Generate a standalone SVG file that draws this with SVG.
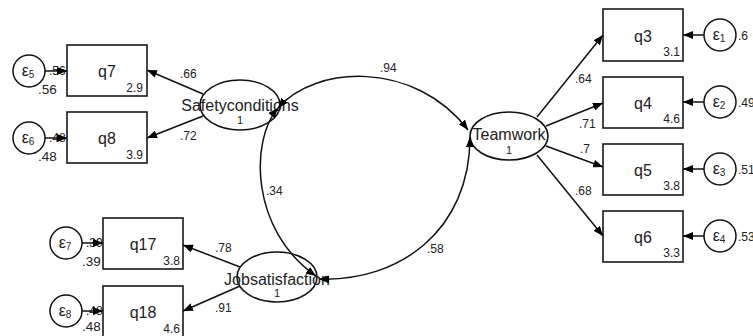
<svg xmlns="http://www.w3.org/2000/svg" width="753" height="336" viewBox="0 0 753 336">
  <style>
    text { font-family: "Liberation Sans", Arial, sans-serif; fill: #222; }
    .box { fill: #fff; stroke: #1a1a1a; stroke-width: 1.6; }
    .lat { fill: #fff; stroke: #111; stroke-width: 1.6; }
    .err { fill: #fff; stroke: #111; stroke-width: 1.5; }
    .name { font-size: 16px; text-anchor: middle; }
    .item { font-size: 16px; text-anchor: middle; }
    .mean { font-size: 12px; text-anchor: end; }
    .one { font-size: 11px; text-anchor: middle; }
    .coef { font-size: 12px; }
    .var { font-size: 13.5px; fill: #000; }
    .eps { font-size: 16px; text-anchor: middle; }
    .sub { font-size: 10px; }
    .edge { fill: none; stroke: #111; stroke-width: 1.5; marker-end: url(#head); }
    .cov { fill: none; stroke: #111; stroke-width: 1.5; marker-start: url(#head); marker-end: url(#head); }
  </style>
  <defs>
    <marker id="head" markerUnits="userSpaceOnUse" markerWidth="10" markerHeight="8" refX="10" refY="4" orient="auto-start-reverse">
      <path d="M0,0 L10,4 L0,8 z" fill="#000"/>
    </marker>
  </defs>
  <rect width="753" height="336" fill="#fff"/>

  <!-- labels that sit under the error arrows -->
  <g id="hidden-labels" class="coef">
    <text x="49" y="75">.56</text>
    <text x="49" y="142">.48</text>
    <text x="86" y="247">.39</text>
    <text x="86" y="315">.48</text>
  </g>

  <g id="q7"><rect class="box" x="67" y="45" width="80" height="51"/><text class="item" x="107" y="77">q7</text><text class="mean" x="143" y="92">2.9</text></g>
  <g id="q8"><rect class="box" x="67" y="112" width="80" height="51"/><text class="item" x="107" y="144">q8</text><text class="mean" x="143" y="159">3.9</text></g>
  <g id="q17"><rect class="box" x="103" y="218" width="80" height="51"/><text class="item" x="143" y="250">q17</text><text class="mean" x="180" y="265">3.8</text></g>
  <g id="q18"><rect class="box" x="103" y="286" width="80" height="51"/><text class="item" x="143" y="318">q18</text><text class="mean" x="180" y="333">4.6</text></g>
  <g id="q3"><rect class="box" x="603" y="9" width="80" height="52"/><text class="item" x="643" y="42">q3</text><text class="mean" x="680" y="56">3.1</text></g>
  <g id="q4"><rect class="box" x="603" y="77" width="80" height="51"/><text class="item" x="643" y="109">q4</text><text class="mean" x="680" y="123">4.6</text></g>
  <g id="q5"><rect class="box" x="603" y="144" width="80" height="51"/><text class="item" x="643" y="176">q5</text><text class="mean" x="680" y="190">3.8</text></g>
  <g id="q6"><rect class="box" x="603" y="211" width="80" height="51"/><text class="item" x="643" y="243">q6</text><text class="mean" x="680" y="257">3.3</text></g>

  <g id="e5"><circle class="err" cx="29" cy="71" r="16"/><text class="eps" x="28" y="76">ε<tspan class="sub" dy="2">5</tspan></text></g>
  <g id="e6"><circle class="err" cx="29" cy="138" r="16"/><text class="eps" x="28" y="143">ε<tspan class="sub" dy="2">6</tspan></text></g>
  <g id="e7"><circle class="err" cx="66" cy="243" r="16"/><text class="eps" x="65" y="248">ε<tspan class="sub" dy="2">7</tspan></text></g>
  <g id="e8"><circle class="err" cx="66" cy="311" r="16"/><text class="eps" x="65" y="316">ε<tspan class="sub" dy="2">8</tspan></text></g>
  <g id="e1"><circle class="err" cx="720" cy="35" r="16"/><text class="eps" x="719" y="40">ε<tspan class="sub" dy="2">1</tspan></text></g>
  <g id="e2"><circle class="err" cx="720" cy="102" r="16"/><text class="eps" x="719" y="107">ε<tspan class="sub" dy="2">2</tspan></text></g>
  <g id="e3"><circle class="err" cx="720" cy="169" r="16"/><text class="eps" x="719" y="174">ε<tspan class="sub" dy="2">3</tspan></text></g>
  <g id="e4"><circle class="err" cx="720" cy="236" r="16"/><text class="eps" x="719" y="241">ε<tspan class="sub" dy="2">4</tspan></text></g>

  <g id="safetyconditions">
    <ellipse class="lat" cx="240" cy="105" rx="40" ry="25"/>
    <text class="name" x="240" y="111">Safetyconditions</text>
    <text class="one" x="240" y="124">1</text>
  </g>
  <g id="jobsatisfaction">
    <ellipse class="lat" cx="277" cy="277" rx="40" ry="25"/>
    <text class="name" x="277" y="285">Jobsatisfaction</text>
    <text class="one" x="277" y="297">1</text>
  </g>
  <g id="teamwork">
    <ellipse class="lat" cx="509" cy="136" rx="39" ry="24"/>
    <text class="name" x="509" y="140">Teamwork</text>
    <text class="one" x="509" y="154">1</text>
  </g>

  <!-- paths are drawn above the nodes so the curves cross the ellipses -->
  <g id="connectors">
    <!-- loadings, left -->
    <line class="edge" x1="203" y1="94" x2="147" y2="70"/>
    <line class="edge" x1="203" y1="116" x2="147" y2="138"/>
    <line class="edge" x1="240" y1="267" x2="183" y2="245"/>
    <line class="edge" x1="240" y1="286" x2="183" y2="311"/>
    <!-- loadings, right -->
    <line class="edge" x1="537" y1="117" x2="603" y2="35"/>
    <line class="edge" x1="546" y1="126" x2="603" y2="103"/>
    <line class="edge" x1="546" y1="146" x2="603" y2="167"/>
    <line class="edge" x1="537" y1="155" x2="603" y2="236"/>
    <!-- error terms -->
    <line class="edge" x1="45" y1="71" x2="67" y2="71"/>
    <line class="edge" x1="45" y1="138" x2="67" y2="138"/>
    <line class="edge" x1="82" y1="243" x2="103" y2="243"/>
    <line class="edge" x1="82" y1="311" x2="103" y2="311"/>
    <line class="edge" x1="704" y1="35" x2="683" y2="35"/>
    <line class="edge" x1="704" y1="102" x2="683" y2="102"/>
    <line class="edge" x1="704" y1="169" x2="683" y2="169"/>
    <line class="edge" x1="704" y1="236" x2="683" y2="236"/>
    <!-- covariances -->
    <path class="cov" d="M278 108 C315 65, 415 60, 468 130"/>
    <path class="cov" d="M278 108 C250 140, 250 230, 316 276"/>
    <path class="cov" d="M319 279 C400 282, 470 230, 470 137"/>
  </g>

  <g id="coefficients" class="coef">
    <text x="180" y="78">.66</text>
    <text x="180" y="140">.72</text>
    <text x="215" y="252">.78</text>
    <text x="215" y="312">.91</text>
    <text x="575" y="83">.64</text>
    <text x="579" y="128">.71</text>
    <text x="580" y="153">.7</text>
    <text x="575" y="195">.68</text>
    <text x="380" y="72">.94</text>
    <text x="266" y="195">.34</text>
    <text x="427" y="253">.58</text>
  </g>

  <g id="variances" class="var">
    <text x="38" y="94">.56</text>
    <text x="38" y="161">.48</text>
    <text x="82" y="266">.39</text>
    <text x="82" y="331">.48</text>
    <text x="738" y="40" class="coef">.6</text>
    <text x="738" y="107" class="coef">.49</text>
    <text x="738" y="174" class="coef">.51</text>
    <text x="738" y="241" class="coef">.53</text>
  </g>
</svg>
